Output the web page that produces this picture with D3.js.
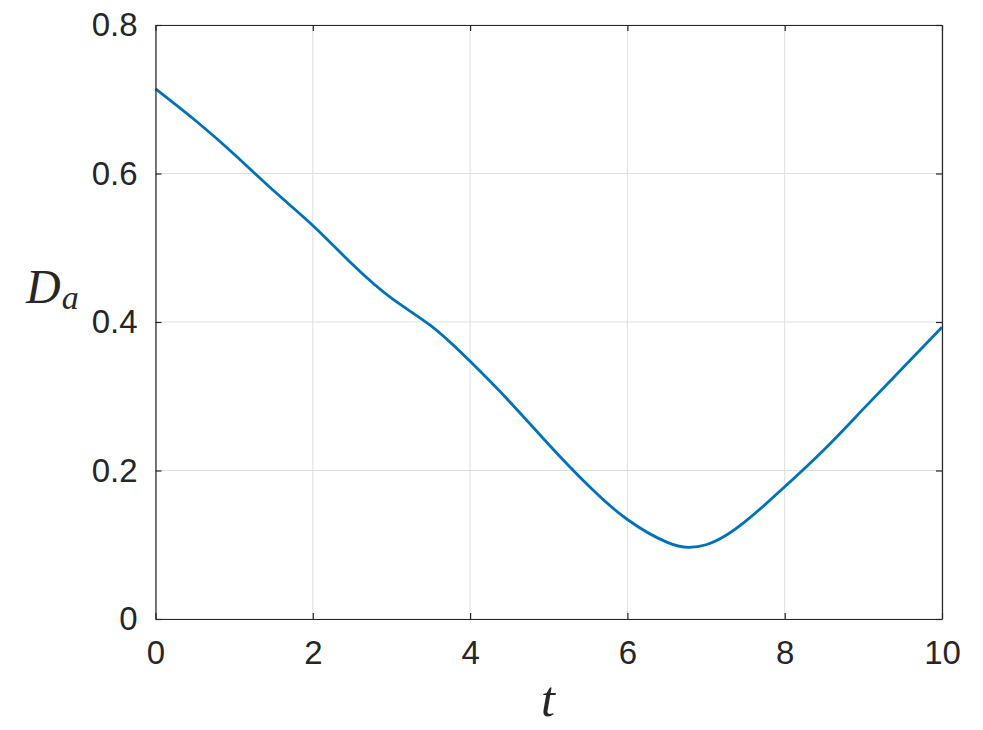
<!DOCTYPE html>
<html><head><meta charset="utf-8">
<script src="https://cdn.jsdelivr.net/npm/d3@7"></script>
<style>body{margin:0;background:#fff}</style>
</head><body>
<svg id="c" width="983" height="730"></svg>
<script>
const tValues = [0, 0.5, 1.0, 1.5, 2.0, 2.5, 3.0, 3.5, 4.0, 4.5, 5.0, 5.5, 6.0, 6.5, 6.78, 7.0, 7.25, 7.5, 7.75, 8.0, 8.5, 9.0, 9.5, 10.0];
const daValues = [0.714, 0.672, 0.626, 0.577, 0.530, 0.478, 0.432, 0.395, 0.347, 0.293, 0.235, 0.180, 0.134, 0.1035, 0.0966, 0.100, 0.1125, 0.1315, 0.154, 0.178, 0.228, 0.283, 0.338, 0.393];
const xTicks = [0, 2, 4, 6, 8, 10];
const yTicks = [0, 0.2, 0.4, 0.6, 0.8];

const svg = d3.select("#c");
const L = 155.5, R = 942, T = 25, B = 619;
const x = d3.scaleLinear().domain([0, 10]).range([L, R]);
const y = d3.scaleLinear().domain([0, 0.8]).range([B, T]);
const axisColor = "#262626";
const font = "'Liberation Sans', Arial, Helvetica, sans-serif";

// grid
const g = svg.append("g");
g.selectAll(".gx").data(xTicks).enter().append("line")
  .attr("x1", d => x(d)).attr("x2", d => x(d)).attr("y1", T).attr("y2", B)
  .attr("stroke", "#dfdfdf").attr("stroke-width", 1);
g.selectAll(".gy").data(yTicks).enter().append("line")
  .attr("y1", d => y(d)).attr("y2", d => y(d)).attr("x1", L).attr("x2", R)
  .attr("stroke", "#dfdfdf").attr("stroke-width", 1);

// curve
const data = tValues.map((t, i) => ({t, v: daValues[i]}));
svg.append("path").datum(data)
  .attr("fill", "none").attr("stroke", "#0072BD").attr("stroke-width", 2.8)
  .attr("stroke-linejoin", "round")
  .attr("d", d3.line().x(d => x(d.t)).y(d => y(d.v)).curve(d3.curveNatural));

// axes
const tick = 6;
const xb = svg.append("g").attr("transform", `translate(0,${B})`)
  .call(d3.axisBottom(x).tickValues(xTicks).tickSizeInner(-tick).tickSizeOuter(0).tickPadding(22).tickFormat(d3.format("d")));
const xt = svg.append("g").attr("transform", `translate(0,${T})`)
  .call(d3.axisTop(x).tickValues(xTicks).tickSizeInner(-tick).tickSizeOuter(0).tickFormat(""));
const yl = svg.append("g").attr("transform", `translate(${L},0)`)
  .call(d3.axisLeft(y).tickValues(yTicks).tickSizeInner(-tick).tickSizeOuter(0).tickPadding(18).tickFormat(d => d === 0 ? "0" : d3.format(".1f")(d)));
const yr = svg.append("g").attr("transform", `translate(${R},0)`)
  .call(d3.axisRight(y).tickValues(yTicks).tickSizeInner(-tick).tickSizeOuter(0).tickFormat(""));
[xb, xt, yl, yr].forEach(a => {
  a.select(".domain").attr("stroke", axisColor).attr("stroke-width", 1.2);
  a.selectAll(".tick line").attr("stroke", axisColor).attr("stroke-width", 1.2);
  a.selectAll("text").attr("fill", axisColor).style("font-family", font).style("font-size", "33px");
});

// axis labels
svg.append("text").attr("x", 548).attr("y", 716).attr("text-anchor", "middle")
  .style("font-family", "'Liberation Serif', 'Times New Roman', serif").style("font-style", "italic")
  .style("font-size", "50px").attr("fill", axisColor).text("t");
const yl2 = svg.append("text").attr("x", 26).attr("y", 303)
  .style("font-family", "'Liberation Serif', 'Times New Roman', serif").style("font-style", "italic")
  .attr("fill", axisColor);
yl2.append("tspan").style("font-size", "48px").text("D");
yl2.append("tspan").attr("dx", 1).attr("dy", 6).style("font-size", "34px").text("a");
</script>
</body></html>
